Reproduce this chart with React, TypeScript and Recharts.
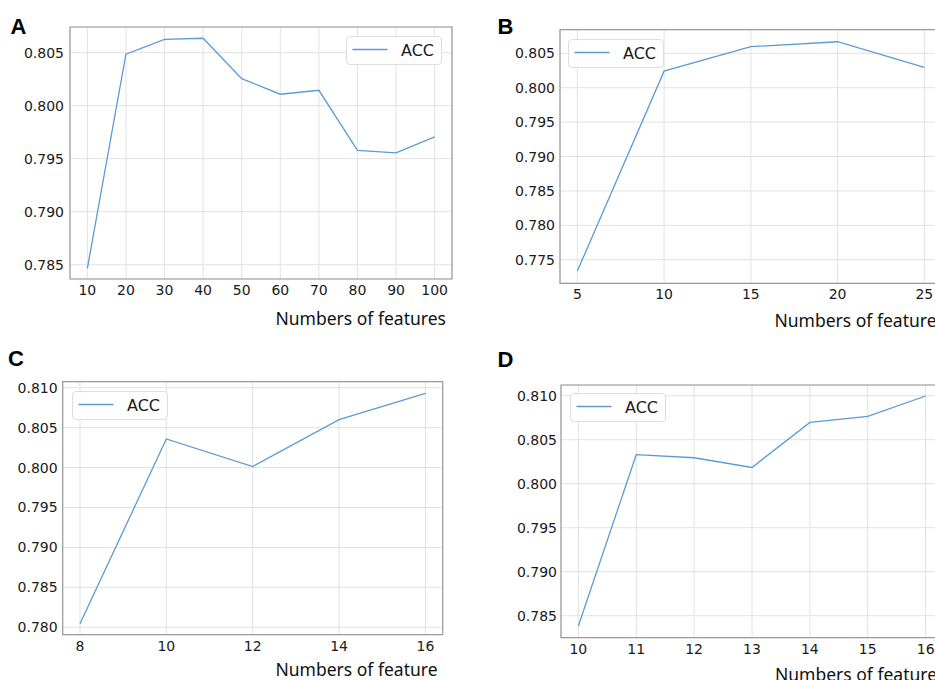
import React from "react";
import { LineChart, Line, XAxis, YAxis, CartesianGrid, ReferenceArea, Legend } from "recharts";

// ---- Data ----
const featuresA = [10, 20, 30, 40, 50, 60, 70, 80, 90, 100];
const accA = [0.78466, 0.80485, 0.80626, 0.80636, 0.80255, 0.80108, 0.80145, 0.79579, 0.79554, 0.79705];
const yTicksA = [0.785, 0.79, 0.795, 0.8, 0.805];

const featuresB = [5, 10, 15, 20, 25];
const accB = [0.77336, 0.80241, 0.80596, 0.80668, 0.80295];
const yTicksB = [0.775, 0.78, 0.785, 0.79, 0.795, 0.8, 0.805];

const featuresC = [8, 10, 12, 14, 16];
const accC = [0.78045, 0.80358, 0.80013, 0.806, 0.8093];
const yTicksC = [0.78, 0.785, 0.79, 0.795, 0.8, 0.805, 0.81];

const featuresD = [10, 11, 12, 13, 14, 15, 16];
const accD = [0.78383, 0.8033, 0.80295, 0.80185, 0.80697, 0.80765, 0.80997];
const yTicksD = [0.785, 0.79, 0.795, 0.8, 0.805, 0.81];

const panelLetters = ["A", "B", "C", "D"];
const xLabels = ["Numbers of features", "Numbers of features", "Numbers of feature", "Numbers of features"];
const seriesName = "ACC";

const LINE = "#5b9bd5";
const TICK_FONT = "'DejaVu Sans', sans-serif";

type Panel = {
  xs: number[];
  ys: number[];
  yTicks: number[];
  xDomain: [number, number];
  yDomain: [number, number];
  left: number;
  top: number;
  width: number;
  margin: { top: number; right: number; left: number; bottom: number };
  tickGapY: number;
  legendPos: { left: number; top: number };
};

const panels: Panel[] = [
  {
    xs: featuresA, ys: accA, yTicks: yTicksA,
    xDomain: [5.5, 104.5], yDomain: [0.78365, 0.80742],
    left: 0, top: 0, width: 470,
    margin: { top: 27, right: 18, left: 10, bottom: 21 },
    tickGapY: 6,
    legendPos: { left: 346, top: 36 },
  },
  {
    xs: featuresB, ys: accB, yTicks: yTicksB,
    xDomain: [4, 26], yDomain: [0.77158, 0.80843],
    left: 470, top: 0, width: 490,
    margin: { top: 29.7, right: 18.3, left: 30, bottom: 16.7 },
    tickGapY: 5,
    legendPos: { left: 98.3, top: 39 },
  },
  {
    xs: featuresC, ys: accC, yTicks: yTicksC,
    xDomain: [7.6, 16.4], yDomain: [0.77907, 0.81075],
    left: 0, top: 340, width: 470,
    margin: { top: 41.7, right: 27.3, left: 2.7, bottom: 5.3 },
    tickGapY: 5,
    legendPos: { left: 71.7, top: 50.7 },
  },
  {
    xs: featuresD, ys: accD, yTicks: yTicksD,
    xDomain: [9.7, 16.3], yDomain: [0.7825, 0.81122],
    left: 470, top: 340, width: 490,
    margin: { top: 45, right: 17, left: 31, bottom: 2.3 },
    tickGapY: 4,
    legendPos: { left: 100, top: 53.3 },
  },
];

const LegendBox = () => (
  <div
    style={{
      width: 96,
      height: 29,
      border: "1px solid #dedede",
      borderRadius: 4,
      background: "rgba(255,255,255,0.85)",
      boxSizing: "border-box",
    }}
  >
    <svg width={96} height={29} style={{ display: "block", position: "absolute", left: 0, top: 0 }}>
      <line x1={6.5} x2={41.5} y1={13.5} y2={13.5} stroke={LINE} strokeWidth={1.3} />
      <text x={55} y={20} fontFamily={TICK_FONT} fontSize={16} fill="#1a1a1a">
        {seriesName}
      </text>
    </svg>
  </div>
);

const ChartPanel = ({ p }: { p: Panel }) => {
  const data = p.xs.map((x, i) => ({ x, acc: p.ys[i] }));
  return (
    <div style={{ position: "absolute", left: p.left, top: p.top }}>
      <LineChart width={p.width} height={340} data={data} margin={p.margin}>
        <CartesianGrid stroke="#e2e2e2" strokeWidth={1} />
        <XAxis
          type="number"
          dataKey="x"
          domain={p.xDomain}
          ticks={p.xs}
          allowDataOverflow
          height={40}
          axisLine={false}
          tickLine={false}
          tickSize={4}
          tickMargin={2}
          tick={{ fontFamily: TICK_FONT, fontSize: 14, fill: "#1a1a1a" }}
          interval={0}
        />
        <YAxis
          type="number"
          domain={p.yDomain}
          ticks={p.yTicks}
          allowDataOverflow
          width={60}
          axisLine={false}
          tickLine={false}
          tickSize={p.tickGapY - 2}
          tickMargin={2}
          tickFormatter={(v: number) => v.toFixed(3)}
          tick={{ fontFamily: TICK_FONT, fontSize: 14, fill: "#1a1a1a" }}
          interval={0}
        />
        <ReferenceArea
          x1={p.xDomain[0]}
          x2={p.xDomain[1]}
          y1={p.yDomain[0]}
          y2={p.yDomain[1]}
          fill="none"
          fillOpacity={0}
          stroke="#9a9a9a"
          strokeWidth={1.2}
          ifOverflow="visible"
        />
        <Line
          type="linear"
          dataKey="acc"
          name={seriesName}
          stroke={LINE}
          strokeWidth={1.3}
          dot={false}
          activeDot={false}
          isAnimationActive={false}
        />
        <Legend
          layout="vertical"
          align="center"
          verticalAlign="middle"
          wrapperStyle={{ left: p.legendPos.left, top: p.legendPos.top, width: 96, height: 29 }}
          content={() => <LegendBox />}
        />
      </LineChart>
    </div>
  );
};

export default function App() {
  return (
    <div
      style={{
        position: "absolute",
        left: 0,
        top: 0,
        width: 935,
        height: 680,
        overflow: "hidden",
        background: "#fff",
      }}
    >
      {panels.map((p, i) => (
        <ChartPanel key={i} p={p} />
      ))}
      <svg
        width={935}
        height={680}
        style={{ position: "absolute", left: 0, top: 0, pointerEvents: "none" }}
      >
        <g fontFamily="'Liberation Sans', Arial, sans-serif" fontWeight="bold" fontSize={22} fill="#000">
          <text x={10.5} y={34}>{panelLetters[0]}</text>
          <text x={497.5} y={33.5}>{panelLetters[1]}</text>
          <text x={8} y={366}>{panelLetters[2]}</text>
          <text x={497.5} y={366.5}>{panelLetters[3]}</text>
        </g>
        <g fontFamily="'Noto Sans', sans-serif" fontSize={17.5} fill="#111">
          <text x={275.5} y={324.5}>{xLabels[0]}</text>
          <text x={774.5} y={327}>{xLabels[1]}</text>
          <text x={275.5} y={676}>{xLabels[2]}</text>
          <text x={775} y={680.5}>{xLabels[3]}</text>
        </g>
      </svg>
    </div>
  );
}
